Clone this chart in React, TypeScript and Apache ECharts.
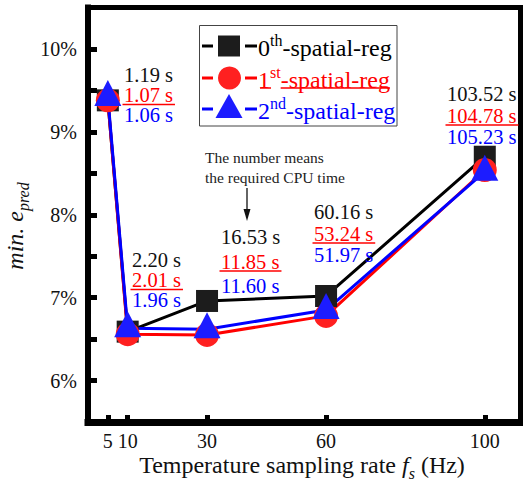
import React, { useEffect, useRef } from 'react';
import * as echarts from 'echarts';

// ---- data ----
const samplingRates = [5, 10, 30, 60, 100];
const err0th = [9.38, 6.59, 6.96, 7.02, 8.7];
const err1st = [9.38, 6.56, 6.55, 6.78, 8.54];
const err2nd = [9.42, 6.63, 6.62, 6.85, 8.52];
const cpu0th = [1.19, 2.2, 16.53, 60.16, 103.52];
const cpu1st = [1.07, 2.01, 11.85, 53.24, 104.78];
const cpu2nd = [1.06, 1.96, 11.6, 51.97, 105.23];
const xTickValues = [5, 10, 30, 60, 100];
const yTickLabels = [6, 7, 8, 9, 10];
const legendBase = ['0', '1', '2'];
const legendSup = ['th', 'st', 'nd'];
const legendRest = '-spatial-reg';
const noteLines = ['The number means', 'the required CPU time'];

// ---- layout / style ----
const SERIF = '"Liberation Serif", "Times New Roman", serif';
const BLACK = '#000000';
const RED = '#ff0000';
const BLUE = '#0000ff';
const annoLayout = [
  { x: 124, y: 75, dy: 20 },
  { x: 132, y: 260, dy: 20 },
  { x: 221, y: 237, dy: 24.5 },
  { x: 314, y: 212, dy: 21.5 },
  { x: 447, y: 94, dy: 21.5 },
];
const ANNO_FS = 20.5;

function measure(text: string, font: string): number {
  const ctx = document.createElement('canvas').getContext('2d');
  if (!ctx) return text.length * 10;
  ctx.font = font;
  return ctx.measureText(text).width;
}

function buildGraphic(): any[] {
  const els: any[] = [];
  const annoFont = `${ANNO_FS}px ${SERIF}`;
  // CPU time annotations
  annoLayout.forEach((p, i) => {
    const t0 = cpu0th[i].toFixed(2) + ' s';
    const t1 = cpu1st[i].toFixed(2) + ' s';
    const t2 = cpu2nd[i].toFixed(2) + ' s';
    const rows = [
      { t: t0, c: '#111111' },
      { t: t1, c: RED },
      { t: t2, c: BLUE },
    ];
    rows.forEach((r, k) => {
      els.push({
        type: 'text',
        x: p.x,
        y: p.y + k * p.dy,
        style: {
          text: r.t,
          fill: r.c,
          font: annoFont,
          align: 'left',
          verticalAlign: 'middle',
          textAlign: 'left',
          textVerticalAlign: 'middle',
        },
        z: 50,
      });
    });
    const w = measure(t1, annoFont);
    const uy = p.y + p.dy + 9.5;
    els.push({
      type: 'line',
      shape: { x1: p.x - 1.5, y1: uy, x2: p.x + w + 2, y2: uy },
      style: { stroke: RED, lineWidth: 1.5 },
      z: 50,
    });
  });

  // note text + arrow
  noteLines.forEach((s, k) => {
    els.push({
      type: 'text',
      x: 205,
      y: 157 + k * 20,
      style: {
        text: s,
        fill: '#222222',
        font: `15.5px ${SERIF}`,
        align: 'left',
        verticalAlign: 'middle',
        textAlign: 'left',
        textVerticalAlign: 'middle',
      },
      z: 50,
    });
  });
  els.push({
    type: 'line',
    shape: { x1: 247, y1: 188, x2: 247, y2: 212 },
    style: { stroke: '#111111', lineWidth: 1.3 },
    z: 50,
  });
  els.push({
    type: 'polygon',
    shape: { points: [[243.5, 209], [250.5, 209], [247, 221]] },
    style: { fill: '#111111' },
    z: 50,
  });

  // legend
  els.push({
    type: 'rect',
    shape: { x: 199.5, y: 25.5, width: 197.5, height: 100.5 },
    style: { fill: '#ffffff', stroke: '#444444', lineWidth: 1 },
    z: 60,
  });
  const rowY = [46, 78, 109];
  const colors = [BLACK, RED, BLUE];
  const fills = ['#1c1c1c', '#ff2020', '#1c1cff'];
  rowY.forEach((y, i) => {
    els.push({
      type: 'line',
      shape: { x1: 202, y1: y, x2: 213, y2: y },
      style: { stroke: colors[i], lineWidth: 3 },
      z: 61,
    });
    els.push({
      type: 'line',
      shape: { x1: 245, y1: y, x2: 257, y2: y },
      style: { stroke: colors[i], lineWidth: 3 },
      z: 61,
    });
    if (i === 0) {
      els.push({
        type: 'rect',
        shape: { x: 218, y: y - 10.5, width: 22, height: 21 },
        style: { fill: fills[0] },
        z: 61,
      });
    } else if (i === 1) {
      els.push({
        type: 'circle',
        shape: { cx: 229.5, cy: y, r: 11.5 },
        style: { fill: fills[1] },
        z: 61,
      });
    } else {
      els.push({
        type: 'polygon',
        shape: { points: [[229, y - 15], [215.5, y + 9], [242.5, y + 9]] },
        style: { fill: fills[2] },
        z: 61,
      });
    }
    els.push({
      type: 'text',
      x: 258,
      y: y,
      style: {
        text: `{b|${legendBase[i]}}{s|${legendSup[i]}}{b|${legendRest}}`,
        fill: colors[i],
        align: 'left',
        verticalAlign: 'middle',
        textAlign: 'left',
        textVerticalAlign: 'middle',
        rich: {
          b: { fontFamily: SERIF, fontSize: 24, lineHeight: 28, verticalAlign: 'bottom', fill: colors[i], color: colors[i] },
          s: { fontFamily: SERIF, fontSize: 16, lineHeight: 18, verticalAlign: 'top', fill: colors[i], color: colors[i] },
        },
      },
      z: 62,
    });
  });
  // underline of red legend entry
  {
    const bw = measure(legendBase[1], `24px ${SERIF}`);
    const sw = measure(legendSup[1], `16px ${SERIF}`);
    const rw = measure(legendRest, `24px ${SERIF}`);
    const uy = rowY[1] + 10;
    els.push({
      type: 'line',
      shape: { x1: 260, y1: uy, x2: 258 + bw + 1, y2: uy },
      style: { stroke: RED, lineWidth: 1.5 },
      z: 62,
    });
    els.push({
      type: 'line',
      shape: { x1: 258 + bw + sw, y1: uy, x2: 258 + bw + sw + rw, y2: uy },
      style: { stroke: RED, lineWidth: 1.5 },
      z: 62,
    });
  }

  // axis titles
  els.push({
    type: 'text',
    x: 302,
    y: 467,
    style: {
      text: '{n|Temperature sampling rate }{i|f}{sub|s}{n| (Hz)}',
      fill: '#111111',
      align: 'center',
      verticalAlign: 'middle',
      textAlign: 'center',
      textVerticalAlign: 'middle',
      rich: {
        n: { fontFamily: SERIF, fontSize: 24, lineHeight: 28, verticalAlign: 'top' },
        i: { fontFamily: SERIF, fontSize: 24, fontStyle: 'italic', lineHeight: 28, verticalAlign: 'top' },
        sub: { fontFamily: SERIF, fontSize: 16, fontStyle: 'italic', lineHeight: 14, verticalAlign: 'bottom' },
      },
    },
    z: 50,
  });
  els.push({
    type: 'text',
    x: 17,
    y: 226,
    rotation: Math.PI / 2,
    style: {
      text: '{a|min. e}{sub|pred}',
      fill: '#111111',
      align: 'center',
      verticalAlign: 'middle',
      textAlign: 'center',
      textVerticalAlign: 'middle',
      rich: {
        a: { fontFamily: SERIF, fontSize: 24, fontStyle: 'italic', lineHeight: 28, verticalAlign: 'top' },
        sub: { fontFamily: SERIF, fontSize: 16, fontStyle: 'italic', lineHeight: 14, verticalAlign: 'bottom' },
      },
    },
    z: 50,
  });
  return els;
}

export default function App() {
  const ref = useRef<HTMLDivElement>(null);
  useEffect(() => {
    if (!ref.current) return;
    const chart = echarts.init(ref.current, null, { renderer: 'svg' });
    const toPairs = (ys: number[]) => samplingRates.map((x, i) => [x, ys[i]]);
    chart.setOption({
      animation: false,
      backgroundColor: '#ffffff',
      grid: {
        left: 88,
        right: 2.5,
        top: 7.5,
        bottom: 62,
        show: true,
        borderColor: '#000',
        borderWidth: 5,
        backgroundColor: 'transparent',
      },
      xAxis: {
        type: 'value',
        min: 0,
        max: 109,
        axisLine: { show: true, onZero: false, lineStyle: { color: '#000', width: 7, cap: 'square' } },
        axisTick: {
          show: true,
          inside: true,
          length: 7,
          customValues: xTickValues,
          lineStyle: { color: '#000', width: 5 },
        },
        axisLabel: {
          customValues: xTickValues,
          margin: 9,
          fontFamily: SERIF,
          fontSize: 20,
          color: '#111',
        },
        splitLine: { show: false },
      },
      yAxis: {
        type: 'value',
        min: 5.5,
        max: 10.5,
        interval: 0.5,
        axisLine: { show: true, lineStyle: { color: '#000', width: 6, cap: 'square' } },
        axisTick: { show: true, inside: true, length: 9, lineStyle: { color: '#000', width: 5 } },
        axisLabel: {
          margin: 11,
          fontFamily: SERIF,
          fontSize: 20,
          color: '#111',
          formatter: (v: number) => (yTickLabels.includes(v) ? `${v}%` : ''),
        },
        splitLine: { show: false },
      },
      series: [
        {
          name: '0th-spatial-reg',
          type: 'line',
          data: toPairs(err0th),
          symbol: 'rect',
          symbolSize: [22, 22],
          lineStyle: { color: BLACK, width: 3 },
          itemStyle: { color: '#1c1c1c', borderWidth: 0 },
          silent: true,
        },
        {
          name: '1st-spatial-reg',
          type: 'line',
          data: toPairs(err1st),
          symbol: 'circle',
          symbolSize: 24,
          lineStyle: { color: RED, width: 3 },
          itemStyle: { color: '#ff2020', borderWidth: 0 },
          silent: true,
        },
        {
          name: '2nd-spatial-reg',
          type: 'line',
          data: toPairs(err2nd),
          symbol: 'triangle',
          symbolSize: [27, 26],
          symbolOffset: [0, -4],
          lineStyle: { color: BLUE, width: 3 },
          itemStyle: { color: '#1c1cff', borderWidth: 0 },
          silent: true,
        },
      ],
      graphic: buildGraphic(),
    });
    return () => chart.dispose();
  }, []);
  return (
    <div
      ref={ref}
      style={{ position: 'fixed', left: 0, top: 0, width: 523, height: 484, background: '#fff' }}
    />
  );
}
